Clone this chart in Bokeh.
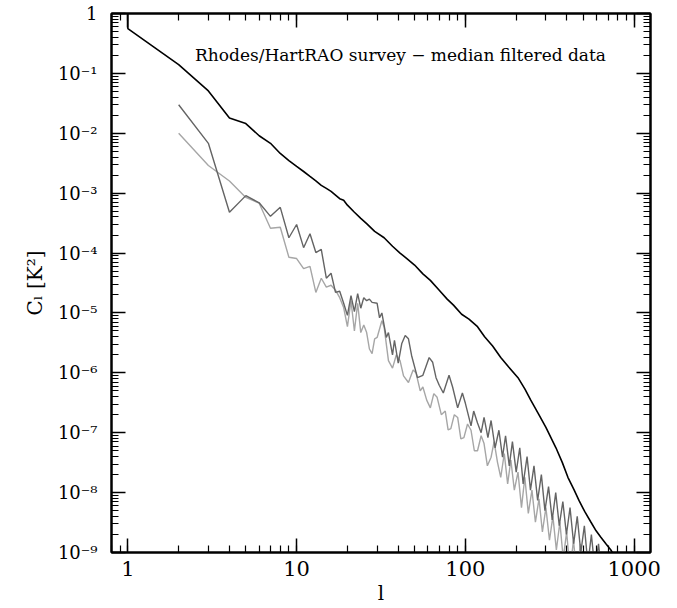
from bokeh.plotting import figure
from bokeh.models import Range1d, LogAxis, FixedTicker, Label
from bokeh.embed import file_html
from bokeh.resources import INLINE

# ---- data ----
black_l = [1, 1, 2, 3, 4, 5, 6, 7, 8, 9, 10, 11, 12, 13, 14, 15, 16, 17, 18, 19, 20,
           22, 24, 26, 29, 33, 37, 41, 45, 50, 56, 62, 70, 78, 85, 95, 105, 118, 130,
           145, 162, 180, 205, 225, 244, 270, 300, 344, 375, 405, 440, 471, 510, 555,
           595, 635, 680, 728, 760]
black_c = [3.0, 0.56, 0.14, 0.051, 0.018, 0.0145, 0.0091, 0.0068, 0.0046, 0.0035, 0.0028,
           0.0023, 0.0019, 0.0016, 0.00135, 0.0012, 0.00107, 9.3e-4, 8.1e-4, 7.6e-4, 6.3e-4,
           4.8e-4, 3.8e-4, 3.1e-4, 2.3e-4, 1.8e-4, 1.3e-4, 1.0e-4, 8.1e-5, 6.3e-5, 4.5e-5,
           3.5e-5, 2.4e-5, 1.7e-5, 1.35e-5, 9.5e-6, 7.9e-6, 5.9e-6, 4.0e-6, 2.8e-6, 1.8e-6,
           1.26e-6, 8.3e-7, 5.4e-7, 3.5e-7, 2.1e-7, 1.23e-7, 5.6e-8, 3.2e-8, 1.8e-8, 1.12e-8,
           7.4e-9, 4.8e-9, 3.2e-9, 2.3e-9, 1.8e-9, 1.4e-9, 1.1e-9, 8.9e-10]

dark_l = [2, 3, 4, 5, 6, 7, 8, 9, 10, 11, 12, 13, 14, 15, 16, 17, 18, 19, 20, 21, 22, 23,
          24, 25, 26, 27, 28, 30, 31, 32, 34, 35, 37, 38, 40, 42, 44, 46, 48, 52, 56, 61,
          64, 67, 70, 74, 80, 84, 90, 96, 100, 108, 112, 118, 124, 129, 136, 142, 150, 158,
          166, 173, 182, 190, 200, 210, 220, 232, 243, 255, 268, 282, 296, 311, 327, 343,
          360, 378, 397, 417, 438, 460, 483, 507, 532, 558, 586, 615, 645, 677, 710, 735, 760]
dark_c = [3.0e-2, 6.8e-3, 4.8e-4, 9.1e-4, 6.9e-4, 4.1e-4, 5.8e-4, 1.8e-4, 3.0e-4, 1.23e-4,
          2.1e-4, 1.02e-4, 1.15e-4, 3.8e-5, 4.6e-5, 2.2e-5, 2.3e-5, 1.45e-5, 9.1e-6, 1.95e-5,
          1.05e-5, 2.1e-5, 1.2e-5, 1.8e-5, 1.6e-5, 1.7e-5, 1.5e-5, 1.45e-5, 8.3e-6, 1.0e-5,
          3.9e-6, 4.7e-6, 2.0e-6, 3.5e-6, 1.45e-6, 3.1e-6, 4.2e-6, 3.7e-6, 1.95e-6, 8.3e-7,
          9.1e-7, 1.8e-6, 1.5e-6, 8.3e-7, 6.2e-7, 4.6e-7, 9.1e-7, 5.8e-7, 2.6e-7, 4.6e-7,
          3.1e-7, 1.3e-7, 2.3e-7, 1.45e-7, 1.0e-7, 1.8e-7, 8.3e-8, 1.6e-7, 5.6e-8, 1.1e-7,
          3.9e-8, 8.9e-8, 2.8e-8, 7.1e-8, 2.2e-8, 5.6e-8, 1.4e-8, 4.0e-8, 1.1e-8, 2.8e-8,
          7.4e-9, 2.0e-8, 5.0e-9, 1.26e-8, 3.5e-9, 1.0e-8, 2.8e-9, 7.1e-9, 2.0e-9, 5.6e-9,
          1.4e-9, 4.0e-9, 1.0e-9, 2.8e-9, 6.3e-10, 2.0e-9, 5.0e-10, 1.4e-9, 4.0e-10, 1.0e-9,
          3.2e-10, 6.3e-10, 2.5e-10]

light_l = [2, 3, 4, 5, 6, 7, 8, 9, 10, 11, 12, 13, 14, 15, 16, 17, 18, 19, 20, 21, 22, 23,
           24, 25, 26, 27, 28, 29, 30, 32, 33, 35, 37, 39, 41, 43, 46, 49, 51, 54, 56, 59,
           62, 65, 68, 72, 76, 79, 82, 86, 90, 94, 98, 103, 108, 113, 118, 124, 129, 135,
           142, 148, 155, 162, 170, 178, 186, 195, 205, 215, 225, 236, 248, 260, 273, 286,
           300, 315, 330, 346, 363, 380, 398, 417, 437, 458, 480, 503, 527, 552, 580, 610]
light_c = [1.0e-2, 2.9e-3, 1.6e-3, 8.5e-4, 6.8e-4, 2.6e-4, 2.7e-4, 8.5e-5, 8.1e-5, 5.5e-5,
           6.0e-5, 2.2e-5, 3.8e-5, 2.7e-5, 2.9e-5, 2.4e-5, 1.8e-5, 1.23e-5, 5.9e-6, 1.6e-5,
           5.0e-6, 1.45e-5, 4.7e-6, 6.3e-6, 4.7e-6, 2.5e-6, 2.1e-6, 3.7e-6, 3.9e-6, 7.4e-6,
           5.8e-6, 1.6e-6, 1.2e-6, 2.0e-6, 1.6e-6, 8.9e-7, 6.9e-7, 1.12e-6, 1.0e-6, 5.0e-7,
           5.8e-7, 3.5e-7, 2.6e-7, 4.5e-7, 3.9e-7, 2.0e-7, 2.3e-7, 1.12e-7, 1.17e-7, 2.0e-7,
           1.8e-7, 7.9e-8, 8.3e-8, 1.4e-7, 1.1e-7, 5.0e-8, 5.0e-8, 8.9e-8, 6.6e-8, 2.8e-8,
           3.9e-8, 7.1e-8, 3.2e-8, 1.8e-8, 4.5e-8, 1.4e-8, 3.5e-8, 1.1e-8, 2.2e-8, 5.6e-9,
           1.8e-8, 4.5e-9, 1.1e-8, 3.2e-9, 7.9e-9, 2.2e-9, 5.6e-9, 1.6e-9, 4.0e-9, 1.1e-9,
           3.2e-9, 7.9e-10, 2.2e-9, 5.0e-10, 1.6e-9, 4.0e-10, 1.4e-9, 3.2e-10, 1.0e-9,
           2.5e-10, 6.3e-10, 1.6e-10]

x_major = [1, 10, 100, 1000]
x_labels = ["1", "10", "100", "1000"]
y_major = [1e-9, 1e-8, 1e-7, 1e-6, 1e-5, 1e-4, 1e-3, 1e-2, 1e-1, 1]
y_labels = ["10\u207b\u2079", "10\u207b\u2078", "10\u207b\u2077", "10\u207b\u2076",
            "10\u207b\u2075", "10\u207b\u2074", "10\u207b\u00b3", "10\u207b\u00b2",
            "10\u207b\u00b9", "1"]
title_text = "Rhodes/HartRAO survey \u2212 median filtered data"

FONT = "DejaVu Serif"

x_minor = [m * 10.0 ** e for e in range(-1, 4) for m in range(1, 10)]
y_minor = [m * 10.0 ** e for e in range(-10, 1) for m in range(1, 10)]

p = figure(width=677, height=608, x_axis_type="log", y_axis_type="log",
           x_range=Range1d(0.8, 1250), y_range=Range1d(1e-9, 1),
           output_backend="svg", toolbar_location=None,
           min_border_left=111, min_border_right=27, min_border_top=13,
           min_border_bottom=56)
p.background_fill_color = "white"
p.border_fill_color = "white"
p.outline_line_color = "black"
p.outline_line_width = 2
p.xgrid.visible = False
p.ygrid.visible = False

p.line(light_l, light_c, line_color="#a6a6a6", line_width=1.4)
p.line(dark_l, dark_c, line_color="#646464", line_width=1.4)
p.line(black_l, black_c, line_color="black", line_width=1.6)

p.add_layout(Label(x=2.5, y=0.2, text=title_text, text_font=FONT,
                   text_font_size="17px", text_baseline="middle",
                   text_color="black"))


def style(ax, major, minor, labels, show):
    ax.ticker = FixedTicker(ticks=major, minor_ticks=minor)
    ax.major_tick_in = 14
    ax.major_tick_out = 0
    ax.minor_tick_in = 7
    ax.minor_tick_out = 0
    ax.axis_line_width = 2
    ax.axis_line_color = "black"
    ax.major_tick_line_width = 1.5
    ax.minor_tick_line_width = 1.2
    ax.major_tick_line_color = "black"
    ax.minor_tick_line_color = "black"
    ax.major_label_overrides = {t: s for t, s in zip(major, labels)}
    if show:
        ax.major_label_text_font = FONT
        ax.major_label_text_color = "black"
    else:
        ax.major_label_text_font_size = "1px"
        ax.major_label_text_alpha = 0
        ax.major_label_standoff = 0


xa = p.xaxis[0]
style(xa, x_major, x_minor, x_labels, True)
xa.major_label_text_font_size = "21px"
xa.major_label_standoff = 8
xa.axis_label = "l"
xa.axis_label_text_font = FONT
xa.axis_label_text_font_size = "20px"
xa.axis_label_text_font_style = "normal"
xa.axis_label_text_color = "black"
xa.axis_label_standoff = 2

ya = p.yaxis[0]
style(ya, y_major, y_minor, y_labels, True)
ya.major_label_text_font_size = "18px"
ya.major_label_standoff = 14
ya.axis_label = "C\u2097 [K\u00b2]"
ya.axis_label_text_font = FONT
ya.axis_label_text_font_size = "20px"
ya.axis_label_text_font_style = "normal"
ya.axis_label_text_color = "black"
ya.axis_label_standoff = 8

top = LogAxis()
style(top, x_major, x_minor, x_labels, False)
p.add_layout(top, "above")
right = LogAxis()
style(right, y_major, y_minor, y_labels, False)
p.add_layout(right, "right")

open("out.html", "w").write(file_html(p, INLINE))
